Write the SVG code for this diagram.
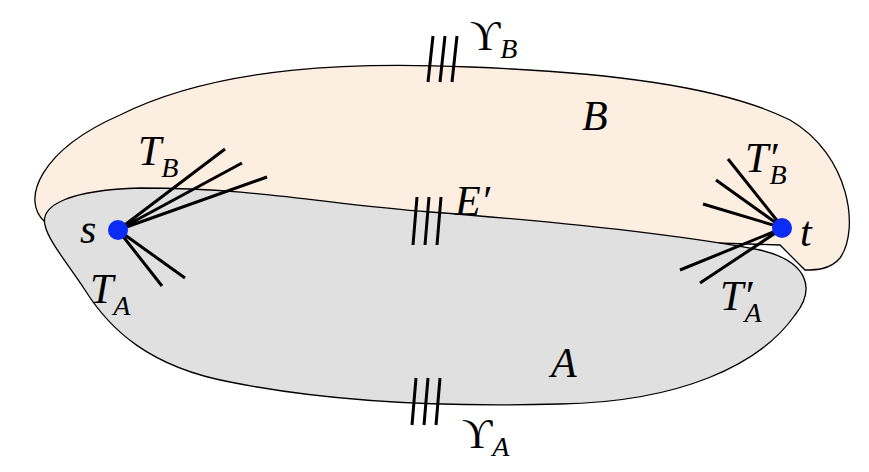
<svg xmlns="http://www.w3.org/2000/svg" width="869" height="472" viewBox="0 0 869 472">
<style>
.r{stroke:#000;stroke-width:1.3}
.e{stroke:#000;stroke-width:3;fill:none}
.h{stroke:#000;stroke-width:3}
text{font-family:"Liberation Serif",serif;font-style:italic;font-size:42px}
.s{font-size:28px}
.u{font-style:normal}
</style>
<rect width="869" height="472" fill="#fff"/>
<g id="B"><path class="r" fill="#fdeee2" d="M45,222 C20,200 40,150 120,115 C220,65 360,62 470,67 C600,72 720,85 790,120 C850,155 860,230 840,258 C830,270 815,270 805,270 L780,245 Z"/></g>
<g id="A"><path class="r" fill="#e0e0e0" d="M45,225 C40,205 70,190 140,188 C260,188 330,205 430,212 C560,222 680,235 760,250 C810,262 815,290 795,315 C760,365 680,402 560,404 C450,407 330,402 230,382 C150,367 110,330 85,290 C65,260 48,240 45,225 Z"/></g>
<g id="edges">
<path class="e" d="M118,230 L225,149 M118,230 L242,163 M118,230 L267,177 M118,230 L162,286 M118,230 L185,278"/>
<path class="e" d="M783,228 L728,159 M783,228 L716,180 M783,228 L703,204 M783,228 L680,270 M783,228 L700,283"/>
<path class="h" d="M428,82 L433,36 M440,82 L445,36 M452,82 L457,36"/>
<path class="h" d="M413,245 L417,197 M425,245 L429,197 M437,245 L441,197"/>
<path class="h" d="M412,425 L416,378 M424,425 L428,378 M436,425 L440,378"/>
</g>
<g id="s"><circle cx="118" cy="230" r="10" fill="#0a2cf5"/><text x="80" y="243">s</text></g>
<g id="t"><circle cx="782" cy="228" r="10" fill="#0a2cf5"/><text x="800" y="246">t</text></g>
<g id="labels">
<text x="470" y="50"><tspan class="u">ϒ</tspan><tspan class="s" dy="8">B</tspan></text>
<text x="582" y="130">B</text>
<text x="138" y="165">T<tspan class="s" dy="12">B</tspan></text>
<text x="455" y="215">E′</text>
<text x="745" y="172">T′<tspan class="s" dx="-8" dy="12">B</tspan></text>
<text x="90" y="303">T<tspan class="s" dy="12">A</tspan></text>
<text x="720" y="310">T′<tspan class="s" dx="-8" dy="12">A</tspan></text>
<text x="551" y="377">A</text>
<text x="462" y="448"><tspan class="u">ϒ</tspan><tspan class="s" dy="8">A</tspan></text>
</g>
</svg>
